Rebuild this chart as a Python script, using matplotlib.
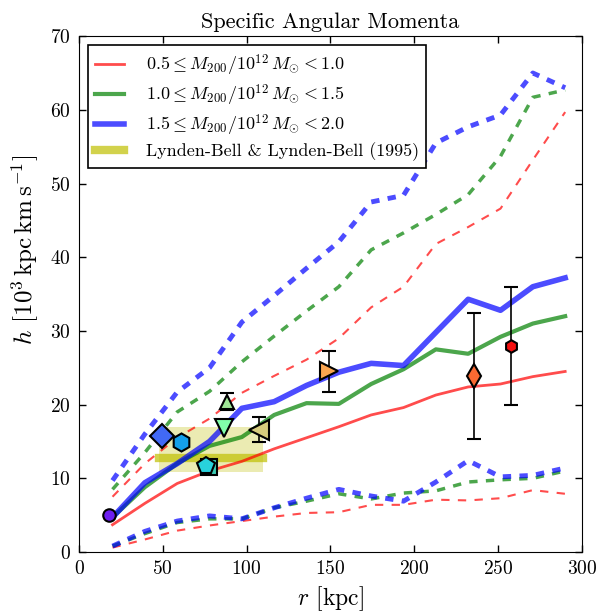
import numpy as np
import matplotlib
matplotlib.use('Agg')
import matplotlib.pyplot as plt

plt.rcParams['font.family'] = 'serif'
plt.rcParams['font.serif'] = ['cmr10']
plt.rcParams['mathtext.fontset'] = 'cm'
plt.rcParams['axes.formatter.use_mathtext'] = True
plt.rcParams['lines.scale_dashes'] = False

# radial bins [kpc]
r = np.linspace(20, 290, 15)

# median h profiles, per mass bin [10^3 kpc km/s]
h_lo = [3.7, 6.6, 9.3, 11.0, 12.3, 14.0, 15.5, 17.0, 18.6, 19.6, 21.3, 22.4, 22.8, 23.8, 24.5]
h_mid = [4.7, 8.8, 12.0, 14.4, 15.6, 18.6, 20.2, 20.1, 22.8, 24.8, 27.5, 26.9, 29.2, 31.0, 32.0]
h_hi = [4.7, 9.4, 12.0, 15.0, 19.5, 20.4, 22.6, 24.4, 25.6, 25.3, 29.8, 34.3, 32.8, 36.0, 37.2]

# upper / lower envelopes
h_lo_up = [7.5, 12.0, 15.5, 18.1, 21.6, 23.9, 26.1, 29.0, 33.2, 36.0, 41.8, 44.1, 46.6, 53.2, 59.7]
h_lo_dn = [0.6, 1.7, 2.9, 3.6, 4.2, 4.8, 5.3, 5.4, 6.4, 6.4, 7.1, 7.0, 7.3, 8.4, 7.9]
h_mid_up = [8.5, 13.5, 19.0, 21.8, 25.8, 29.3, 32.7, 36.0, 41.0, 43.3, 45.8, 48.5, 53.7, 61.7, 62.7]
h_mid_dn = [0.8, 2.5, 4.0, 4.5, 4.5, 6.0, 6.9, 7.9, 7.2, 8.0, 8.3, 9.5, 9.8, 10.0, 11.0]
h_hi_up = [9.7, 16.0, 21.7, 25.0, 31.2, 34.8, 38.5, 42.1, 47.5, 48.4, 55.5, 57.7, 59.3, 65.0, 63.0]
h_hi_dn = [0.8, 2.8, 4.2, 4.9, 4.5, 6.0, 7.3, 8.5, 7.6, 6.9, 9.5, 12.4, 10.2, 10.4, 11.4]

labels = [r'$0.5 \leq M_{200}/10^{12}\,M_{\odot} < 1.0$',
          r'$1.0 \leq M_{200}/10^{12}\,M_{\odot} < 1.5$',
          r'$1.5 \leq M_{200}/10^{12}\,M_{\odot} < 2.0$']

# Lynden-Bell & Lynden-Bell (1995)
lb_r = [48, 110]
lb_h = 12.8
lb_h_range = [10.9, 16.9]

# satellite measurements
sat_r = [18, 77.5, 75.5, 61, 49.5, 88.5, 86.5, 107.5, 149, 235.5, 257.5]
sat_h = [5.0, 11.5, 11.7, 14.9, 15.8, 20.4, 16.8, 16.6, 24.5, 23.9, 28.0]
sat_err = [0, 0, 0, 0, 0, 1.15, 0, 1.7, 2.8, 8.6, 8.0]
sat_marker = ['o', 's', 'p', 'h', 'D', '^', 'v', '<', '>', 'd', 'h']
sat_size = [9, 12, 13, 13, 12, 9.5, 13, 14, 13, 12, 9]
sat_color = ['#6e1ef0', '#3ccdb4', '#28d2dc', '#14a0eb', '#4169f5', '#a0e696',
             '#82ffaa', '#d7cd7d', '#faa550', '#fa6932', '#f50f0f']

fig = plt.figure(figsize=(6.1, 6.13), dpi=100)
ax = fig.add_axes([0.1295, 0.0995, 0.8245, 0.8415])

ax.fill_between(lb_r, lb_h_range[0], lb_h_range[1], color='y', alpha=0.3, lw=0)
ax.plot(lb_r, [lb_h, lb_h], color='y', alpha=0.7, lw=6, solid_capstyle='projecting')

ax.plot(r, h_lo, color='r', alpha=0.7, lw=2, label=labels[0])
ax.plot(r, h_mid, color='g', alpha=0.7, lw=3, label=labels[1])
ax.plot(r, h_hi, color='b', alpha=0.7, lw=4, label=labels[2])

for up, dn, c, w in [(h_lo_up, h_lo_dn, 'r', 1.5), (h_mid_up, h_mid_dn, 'g', 2.5),
                     (h_hi_up, h_hi_dn, 'b', 3.5)]:
    ax.plot(r, up, color=c, alpha=0.7, lw=w, dashes=(6, 6))
    ax.plot(r, dn, color=c, alpha=0.7, lw=w, dashes=(6, 6))

ax.plot([], [], color='y', alpha=0.7, lw=6, label='Lynden-Bell & Lynden-Bell (1995)')

for i in range(len(sat_r)):
    err = sat_err[i] if sat_err[i] > 0 else None
    ax.errorbar(sat_r[i], sat_h[i], yerr=err, marker=sat_marker[i], ms=sat_size[i],
                mfc=sat_color[i], mec='k', mew=1.5, ecolor='k', elinewidth=1.2,
                capsize=5, capthick=1.2, ls='none', zorder=5)

ax.set_xlim(0, 300)
ax.set_ylim(0, 70)
ax.set_xticks(range(0, 301, 50))
ax.set_yticks(range(0, 71, 10))
ax.tick_params(direction='in', length=5, width=1, top=True, right=True, labelsize=14, pad=6)
ax.set_xlabel(r'$r$ [kpc]', fontsize=17)
ax.set_ylabel(r'$h$ [$10^3\,\mathrm{kpc\,km\,s^{-1}}$]', fontsize=18)
ax.yaxis.set_label_coords(-0.075, 0.585)
ax.set_title('Specific Angular Momenta', fontsize=16)

leg = ax.legend(loc='upper left', fontsize=13, fancybox=False, framealpha=1,
                edgecolor='k', handlelength=1.6, handletextpad=1.2, labelspacing=0.25)
leg.get_frame().set_linewidth(1.2)

fig.savefig('out.png', dpi=100)
